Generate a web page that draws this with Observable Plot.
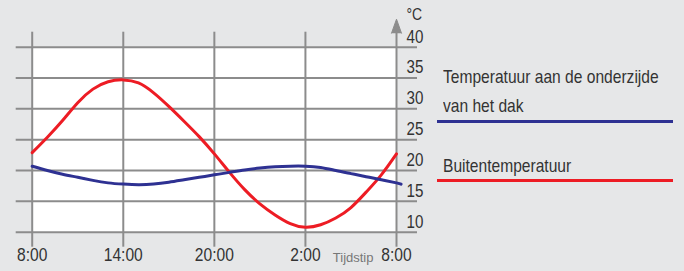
<!DOCTYPE html>
<html>
<head>
<meta charset="utf-8">
<script src="https://cdn.jsdelivr.net/npm/d3@7"></script>
<script src="https://cdn.jsdelivr.net/npm/@observablehq/plot@0.6"></script>
<style>
html, body { margin: 0; padding: 0; background: #e6e7e8; }
#wrap { position: relative; width: 684px; height: 271px; overflow: hidden;
  font-family: "Liberation Sans", Arial, sans-serif; }
#chart { position: absolute; left: 0; top: 0; }
.lgtext { position: absolute; left: 443px; font-size: 19px; line-height: 29px; color: #333; white-space: nowrap;
  transform: scaleX(0.82); transform-origin: left top; }
.lgline { position: absolute; left: 437px; width: 236px; height: 3px; }
</style>
</head>
<body>
<div id="wrap">
  <div id="chart"></div>
  <div class="lgtext" style="top:62px">Temperatuur aan de onderzijde<br>van het dak</div>
  <div class="lgline" style="top:119.5px;background:#2e3192"></div>
  <div class="lgtext" style="top:151px">Buitentemperatuur</div>
  <div class="lgline" style="top:178.5px;background:#ed1c24"></div>
</div>
<script>
// hours since midnight of day 1 (8 = 8:00, 26 = 2:00 next day, 32 = 8:00 next day)
const hours = [8, 9, 10, 11, 12, 13, 14, 15, 16, 17, 18, 19, 20, 21, 22, 23, 24, 25, 26, 27, 28, 29, 30, 31, 32];
// Buitentemperatuur (°C)
const buiten = [22.9, 25.4, 28.1, 31.0, 33.2, 34.4, 34.7, 34.2, 32.6, 30.4, 28.0, 25.5, 22.7, 19.7, 16.9, 14.6, 12.8, 11.4, 10.8, 11.2, 12.3, 14.0, 16.5, 19.3, 22.7];
// Temperatuur aan de onderzijde van het dak (°C)
const dakHours = [8, 9, 10, 11, 12, 13, 14, 15, 16, 17, 18, 19, 20, 21, 22, 23, 24, 25, 26, 27, 28, 29, 30, 31, 32, 32.3];
const dak = [20.7, 20.0, 19.4, 18.9, 18.4, 18.0, 17.8, 17.7, 17.8, 18.1, 18.5, 18.9, 19.3, 19.7, 20.1, 20.4, 20.6, 20.7, 20.7, 20.5, 20.0, 19.5, 19.0, 18.5, 18.0, 17.8];

const xTicks = [8, 14, 20, 26, 32];
const xTickLabels = ["8:00", "14:00", "20:00", "2:00", "8:00"];
const yTicks = [10, 15, 20, 25, 30, 35, 40];

const gridColor = "#8c8c8c";
const textColor = "#333";

const chart = Plot.plot({
  width: 432,
  height: 271,
  marginLeft: 31.7,
  marginRight: 36,
  marginTop: 46.7,
  marginBottom: 39.3,
  style: { background: "transparent", fontFamily: '"Liberation Sans", Arial, sans-serif', overflow: "visible" },
  x: { domain: [8, 32], axis: null },
  y: { domain: [10, 40], axis: null },
  marks: [
    Plot.frame({ fill: "white", stroke: null }),
    Plot.ruleY(yTicks, { y: d => d, stroke: gridColor, strokeWidth: 2, insetLeft: -16, insetRight: -21 }),
    Plot.ruleX(xTicks, { x: d => d, stroke: gridColor, strokeWidth: 2, insetTop: -15, insetBottom: -15 }),
    Plot.vector([32], { x: d => d, frameAnchor: "top", dy: -14, anchor: "start", length: 14, rotate: 0, shape: "spike", r: 5, fill: gridColor, stroke: gridColor, strokeWidth: 1 }),
    Plot.line(d3.range(hours.length), { x: i => hours[i], y: i => buiten[i], stroke: "#ed1c24", strokeWidth: 3, curve: "natural" }),
    Plot.line(d3.range(dakHours.length), { x: i => dakHours[i], y: i => dak[i], stroke: "#2e3192", strokeWidth: 3, curve: "natural" }),
    Plot.text(yTicks, { y: d => d, text: d => String(d), frameAnchor: "right", textAnchor: "start", dx: 10, dy: -10.5, fontSize: 18.5, fill: textColor }),
    Plot.text(xTicks, { x: d => d, text: (d, i) => xTickLabels[i], frameAnchor: "bottom", dy: 28.5, fontSize: 19, fill: textColor }),
    Plot.text(["Tijdstip"], { frameAnchor: "bottom-right", textAnchor: "end", dx: -23, dy: 29.5, fontSize: 13, fill: "#777" }),
    Plot.text(["°C"], { frameAnchor: "top-right", textAnchor: "start", dx: 10, dy: -39, fontSize: 17, fill: textColor })
  ]
});
document.getElementById("chart").appendChild(chart);

// condensed lettering (like Helvetica Condensed): squeeze each text to 82% of its natural width
chart.querySelectorAll("text").forEach(t => {
  if (t.textContent === "Tijdstip") return;
  const w = t.getComputedTextLength();
  if (w > 0) {
    t.setAttribute("textLength", (w * 0.82).toFixed(2));
    t.setAttribute("lengthAdjust", "spacingAndGlyphs");
  }
});
</script>
</body>
</html>
